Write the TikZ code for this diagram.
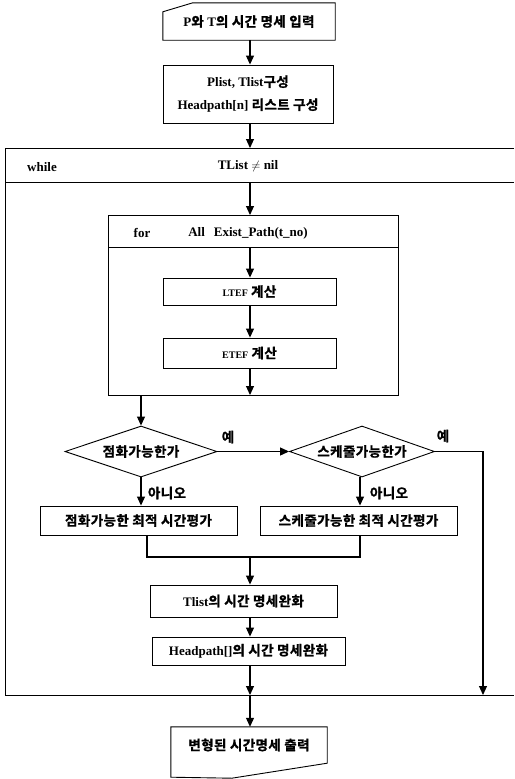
\documentclass[tikz,border=0pt]{standalone}
\usepackage{fontspec}
\setmainfont{Liberation Serif}
\newfontfamily\kr{Noto Sans CJK KR}[BoldFont={* Bold}, BoldFeatures={FakeBold=1.2}, LetterSpace=3]
\usetikzlibrary{arrows.meta,shapes.geometric,calc}
\newcommand\ko[1]{{\kr\fontsize{13.5}{16}\selectfont #1}}

\begin{document}
\begin{tikzpicture}[x=1pt,y=-1pt,
  frame/.style={line width=0.9pt},
  box/.style={draw, line width=0.9pt, rectangle, inner sep=0pt, align=center},
  plain/.style={inner sep=0pt, align=center},
  decision/.style={draw, line width=0.9pt, diamond, aspect=3, inner sep=0pt},
  arr/.style={-{Triangle[length=9pt,width=8pt]}, line width=1.1pt},
  link/.style={line width=1.1pt},
  every node/.style={font=\bfseries\fontsize{13}{15}\selectfont},
  note/.style={inner sep=0pt, font=\bfseries\fontsize{13.5}{16}\selectfont\kr}
]
\useasboundingbox (0,0) rectangle (514,779);

% --- input and list construction
\node[plain, minimum width=172, minimum height=37] (in) at (249,21.5)
  {P\ko{와 }T\ko{의 시간 명세 입력}};
\draw[frame] (in.south west) -- (in.south east) -- (in.north east)
  -- ($(in.north west)+(30,0)$) -- ($(in.north west)+(0,9)$) -- cycle;

\node[box, minimum width=170, minimum height=58,
      font=\bfseries\fontsize{13}{23}\selectfont] (build) at (248,94)
  {Plist, Tlist\ko{구성}\\Headpath[n] \ko{리스트 구성}};

% --- while loop frame
\coordinate (wtop) at (250,148);
\coordinate (whead) at (250,182);
\coordinate (wbot) at (250,695);
\coordinate (wbr) at (483,695);
\draw[frame] (514,148) -- (5,148) -- (5,695) -- (514,695);
\draw[frame] (5,182) -- (514,182);
\node[plain] (wkw) at (42,167) {while};
\node[plain] (wcond) at (248,166) {TList $\neq$ nil};

% --- for loop frame
\coordinate (ftop) at (250,215);
\coordinate (fhead) at (250,247);
\coordinate (fbot) at (250,395);
\coordinate (fbotl) at (141,395);
\draw[frame] (108,215) rectangle (398,395);
\draw[frame] (108,247) -- (398,247);
\node[plain] (fkw) at (142,233) {for};
\node[plain] (fcond) at (248,233) {All\hspace{9pt}Exist\_Path(t\_no)};

\node[box, minimum width=173, minimum height=27] (ltef) at (249.5,291.5)
  {{\fontsize{10}{12}\selectfont LTEF} \ko{계산}};
\node[box, minimum width=173, minimum height=30] (etef) at (249.5,353)
  {{\fontsize{10}{12}\selectfont ETEF} \ko{계산}};

% --- decisions
\node[decision, minimum width=152, minimum height=51] (d1) at (141,451.5)
  {\ko{점화가능한가}};
\node[decision, minimum width=145, minimum height=51] (d2) at (362,451.5)
  {\ko{스케줄가능한가}};
\node[note] (y1) at (228,437) {예};
\node[note] (y2) at (443,436) {예};
\node[note] (n1) at (167,493) {아니오};
\node[note] (n2) at (389,493) {아니오};

\node[box, minimum width=197, minimum height=29] (b3) at (138.5,520.5)
  {\ko{점화가능한 최적 시간평가}};
\node[box, minimum width=197, minimum height=29] (b4) at (358.5,520.5)
  {\ko{스케줄가능한 최적 시간평가}};
\coordinate (j) at (250,557);

\node[box, minimum width=187, minimum height=32] (tl) at (243.5,601)
  {Tlist\ko{의 시간 명세완화}};
\node[box, minimum width=193, minimum height=28] (hp) at (248.5,651)
  {Headpath[]\ko{의 시간 명세완화}};

% --- output
\node[plain, minimum width=156, minimum height=36] (out) at (249,745)
  {\ko{변형된 시간명세 출력}};
\draw[frame] (out.south west) -- (out.north west) -- (out.north east)
  -- (out.south east) -- ($(out.south west)+(61,15)$)
  -- ($(out.south west)+(0,14)$) -- cycle;

% --- connectors
\draw[arr] (in.south -| wtop) -- (build.north -| wtop);
\draw[arr] (build.south -| wtop) -- (wtop);
\draw[arr] (whead) -- (ftop);
\draw[arr] (fhead) -- (ltef.north -| fhead);
\draw[arr] (ltef.south -| fhead) -- (etef.north -| fhead);
\draw[arr] (etef.south -| fhead) -- (fbot);
\draw[arr] (fbotl) -- (d1.north);
\draw[arr] (d1.east) -- (d2.west);
\draw[arr] (d2.east) -| (wbr);
\draw[arr] (d1.south) -- (d1.south |- b3.north);
\draw[arr] (d2.south -| 360,0) -- (b4.north -| 360,0);
\draw[link] (b3.south -| 147,0) |- (j) -| (b4.south -| 360,0);
\draw[arr] (j) -- (tl.north -| j);
\draw[arr] (tl.south -| j) -- (hp.north -| j);
\draw[arr] (hp.south -| j) -- (wbot);
\draw[arr] (wbot) -- (out.north -| wbot);
\end{tikzpicture}
\end{document}
